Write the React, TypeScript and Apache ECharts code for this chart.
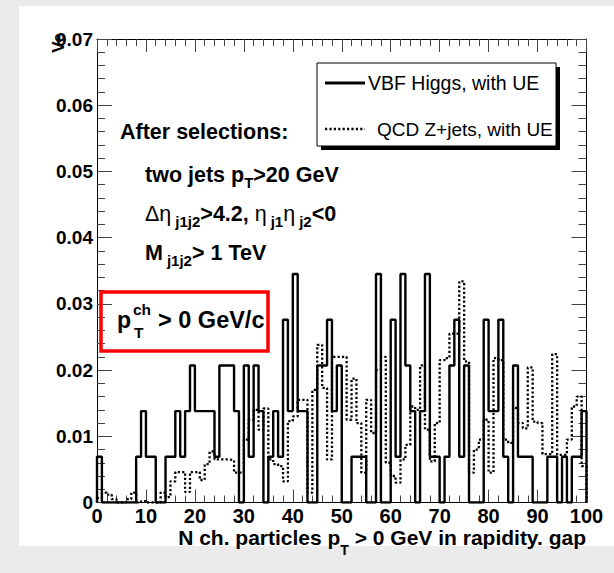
import React, { useEffect, useRef } from "react";
import * as echarts from "echarts";

const FONT = "'Liberation Sans', Arial, Helvetica, sans-serif";

// lower edges of the 100 unit-wide bins on the x axis (0 .. 99)
const binLowEdges: number[] = Array.from({ length: 100 }, (_, i) => i);
const xRange = [0, 100];
const yRange = [0, 0.07];

// VBF Higgs, with UE (solid)
const vbfHiggs: number[] = [
  0.0069, 0, 0, 0, 0, 0, 0, 0, 0.0069, 0.0138,
  0.0069, 0.0069, 0, 0, 0.0069, 0.0069, 0.0138, 0.0069, 0.0138, 0.0207,
  0.0138, 0.0138, 0.0138, 0.0138, 0.0069, 0.0207, 0.0207, 0.0207, 0.0138, 0,
  0.0207, 0.0069, 0.0207, 0.0138, 0, 0.0069, 0.0138, 0.0069, 0.0276, 0.0138,
  0.0345, 0.0138, 0.0138, 0, 0, 0.0207, 0.0207, 0.0276, 0.0138, 0.0207,
  0, 0, 0.0069, 0.0069, 0.0069, 0, 0, 0.0345, 0, 0,
  0.0276, 0.0069, 0.0345, 0.0207, 0.0138, 0, 0.0138, 0.0345, 0.0069, 0.0069,
  0, 0.0069, 0.0207, 0.0276, 0.0069, 0.0207, 0, 0, 0, 0.0276,
  0.0138, 0.0138, 0.0276, 0.0069, 0, 0.0207, 0.0069, 0.0069, 0.0069, 0,
  0, 0, 0.0069, 0.0069, 0, 0.0069, 0, 0.0069, 0.0069, 0.0138,
];

// QCD Z+jets, with UE (dotted)
const qcdZjets: number[] = [
  0.0007, 0.0015, 0.0012, 0.0005, 0, 0, 0.0005, 0.0015, 0, 0.0002,
  0, 0, 0, 0.0015, 0.0008, 0.0032, 0.0046, 0.0046, 0.0016, 0.0046,
  0.0046, 0.0034, 0.0058, 0.0077, 0.0065, 0.0065, 0.0065, 0.0064, 0.0045, 0.0045,
  0.0095, 0.0125, 0.014, 0.011, 0.0142, 0.0065, 0.0058, 0.0055, 0.0032, 0.0123,
  0.013, 0.0155, 0.0155, 0.0015, 0.017, 0.0238, 0.0173, 0.0065, 0.022, 0.022,
  0.022, 0.0125, 0.0187, 0.012, 0.0045, 0.0155, 0.0105, 0.02, 0.022, 0.006,
  0.004, 0.003, 0.0065, 0.0087, 0.0145, 0.014, 0.0207, 0.011, 0.0062, 0.012,
  0.0215, 0.0218, 0.0255, 0.0255, 0.0334, 0.0213, 0.0045, 0.008, 0.0095, 0.0125,
  0.0045, 0.0218, 0.0215, 0.0095, 0.009, 0.0143, 0.012, 0.0112, 0.0204, 0.0122,
  0.012, 0.0073, 0.0073, 0.0224, 0.0072, 0.0072, 0.0095, 0.0145, 0.016, 0.0055,
];

const legendNames = ["VBF Higgs, with UE", "QCD Z+jets, with UE"];
const xTitleParts = ["N ch. particles p", "T", " > 0 GeV in rapidity. gap"];

function histSteps(vals: number[]): number[][] {
  const pts: number[][] = [[xRange[0], 0]];
  vals.forEach((v, i) => pts.push([binLowEdges[i], v]));
  pts.push([xRange[1], vals[vals.length - 1]]);
  pts.push([xRange[1], 0]);
  return pts;
}

function measure(text: string, font: string): number {
  const ctx = document.createElement("canvas").getContext("2d");
  if (!ctx) return text.length * 10;
  ctx.font = font;
  return ctx.measureText(text).width;
}

const tickStyle = { color: "#444", width: 1 };

function xAxisDef(pos: "bottom" | "top", labels: boolean) {
  return {
    type: "value",
    position: pos,
    min: xRange[0],
    max: xRange[1],
    interval: 10,
    axisLine: { show: true, onZero: false, lineStyle: { color: "#000", width: 1 } },
    axisTick: { show: true, inside: true, length: 13, lineStyle: tickStyle },
    minorTick: { show: true, splitNumber: 5, length: 7, lineStyle: tickStyle },
    axisLabel: {
      show: labels,
      margin: 4,
      fontSize: 20,
      lineHeight: 18,
      fontWeight: "bold",
      fontFamily: FONT,
      color: "#000",
    },
    splitLine: { show: false },
    minorSplitLine: { show: false },
  };
}

function yAxisDef(pos: "left" | "right", labels: boolean) {
  return {
    type: "value",
    position: pos,
    min: yRange[0],
    max: yRange[1],
    interval: 0.01,
    axisLine: { show: true, onZero: false, lineStyle: { color: "#000", width: 1 } },
    axisTick: { show: true, inside: true, length: 15, lineStyle: tickStyle },
    minorTick: { show: true, splitNumber: 5, length: 8, lineStyle: tickStyle },
    axisLabel: {
      show: labels,
      margin: 4,
      fontSize: 19,
      fontWeight: "bold",
      fontFamily: FONT,
      color: "#000",
      formatter: (v: number) => (v === 0 ? "0" : v.toFixed(2)),
    },
    splitLine: { show: false },
    minorSplitLine: { show: false },
  };
}

const main = { fontSize: 21.5, fontWeight: "bold", fontFamily: FONT, lineHeight: 30, fill: "#000" };
const greek = { fontSize: 21.5, fontWeight: "normal", fontFamily: FONT, lineHeight: 30, fill: "#000" };
const sub = { fontSize: 15, fontWeight: "bold", fontFamily: FONT, lineHeight: 16, verticalAlign: "bottom", fill: "#000" };
const subSp = { ...sub, padding: [0, 0, 0, 4] };

function txt(x: number, y: number, text: string, extra: any = {}, el: any = {}) {
  return {
    type: "text",
    x,
    y,
    z: 100,
    ...el,
    style: {
      text,
      fill: "#000",
      fontFamily: FONT,
      fontSize: 21.5,
      fontWeight: "bold",
      align: "left",
      verticalAlign: "middle",
      textAlign: "left",
      textVerticalAlign: "middle",
      ...extra,
    },
  };
}

export default function App() {
  const ref = useRef<HTMLDivElement>(null);
  useEffect(() => {
    if (!ref.current) return;
    const chart = echarts.init(ref.current, null, { renderer: "svg", width: 614, height: 573 });

    // x-axis title: main text + subscript T, laid out right-aligned at the frame edge
    const titleSize = 21;
    const subSize = 14;
    const titleRight = 586;
    const titleY = 537.5;
    const w3 = measure(xTitleParts[2], `bold ${titleSize}px ${FONT}`);
    const wT = measure(xTitleParts[1], `bold ${subSize}px ${FONT}`);
    const xT = titleRight - w3 - wT;

    const option: any = {
      animation: false,
      backgroundColor: "transparent",
      grid: { left: 97, top: 39, width: 489.5, height: 463.5, containLabel: false },
      xAxis: [xAxisDef("bottom", true), xAxisDef("top", false)],
      yAxis: [yAxisDef("left", true), yAxisDef("right", false)],
      series: [
        {
          name: legendNames[1],
          type: "line",
          step: "end",
          xAxisIndex: 0,
          yAxisIndex: 0,
          symbol: "none",
          showSymbol: false,
          z: 2,
          lineStyle: { color: "#000", width: 2.3, type: [2.2, 2.2], cap: "butt" },
          data: histSteps(qcdZjets),
        },
        {
          name: legendNames[0],
          type: "line",
          step: "end",
          xAxisIndex: 0,
          yAxisIndex: 0,
          symbol: "none",
          showSymbol: false,
          z: 3,
          lineStyle: { color: "#000", width: 2.4 },
          data: histSteps(vbfHiggs),
        },
      ],
      graphic: [
        // legend
        { type: "rect", z: 100, shape: { x: 321, y: 67, width: 239, height: 83 }, style: { fill: "#000" } },
        { type: "rect", z: 101, shape: { x: 317, y: 63, width: 239, height: 83 }, style: { fill: "#fff", stroke: "#000", lineWidth: 1 } },
        { type: "line", z: 102, shape: { x1: 325, y1: 83, x2: 365, y2: 83 }, style: { stroke: "#000", lineWidth: 3 } },
        { type: "line", z: 102, shape: { x1: 325, y1: 129, x2: 365, y2: 129 }, style: { stroke: "#000", lineWidth: 2.3, lineDash: [2.2, 2.2] } },
        txt(368, 83, legendNames[0], { fontWeight: "normal", fontSize: 19.5 }, { z: 103 }),
        txt(377, 129, legendNames[1], { fontWeight: "normal", fontSize: 19 }, { z: 103 }),
        // selection texts
        txt(120, 132, "After selections:"),
        txt(145, 175, "{a|two jets p}{s|T}{a|>20 GeV}", { rich: { a: main, s: sub } }),
        txt(145, 214, "{g|Δη}{sp|j1j2}{a|>4.2, }{g|η}{sp|j1}{g|η}{sp|j2}{a|<0}", {
          rich: { a: main, g: greek, sp: subSp },
        }),
        txt(145, 253, "{a|M}{sp|j1j2}{a|> 1 TeV}", { rich: { a: main, sp: subSp } }),
        // red box
        { type: "rect", z: 104, shape: { x: 101, y: 292, width: 167, height: 59 }, style: { fill: "none", stroke: "#ff0000", lineWidth: 3.5 } },
        txt(117, 320, "p", { fontSize: 23 }),
        txt(133, 309, "ch", { fontSize: 15.5 }),
        txt(134, 332, "T", { fontSize: 15.5 }),
        txt(158, 320, "> 0 GeV/c", { fontSize: 23.5 }),
        // x axis title
        txt(titleRight, titleY, xTitleParts[2], { fontSize: titleSize, lineHeight: 17, align: "right", textAlign: "right" }),
        txt(xT, titleY + 12, xTitleParts[1], { fontSize: subSize, lineHeight: 12 }),
        txt(xT, titleY, xTitleParts[0], { fontSize: titleSize, lineHeight: 17, align: "right", textAlign: "right" }),
        // y axis title (rotated, partly hidden behind the top label)
        txt(58, 33, "Ve", { fontSize: 17, align: "right", textAlign: "right" }, { rotation: Math.PI / 2 }),
      ],
    };
    chart.setOption(option);
    return () => chart.dispose();
  }, []);
  return (
    <div
      style={{
        position: "absolute",
        left: 0,
        top: 0,
        width: 614,
        height: 573,
        background: "#ebebeb",
        overflow: "hidden",
      }}
    >
      <div style={{ position: "absolute", left: 19, top: 6, width: 595, height: 540, background: "#fff" }} />
      <div ref={ref} style={{ position: "absolute", left: 0, top: 0, width: 614, height: 573 }} />
    </div>
  );
}
